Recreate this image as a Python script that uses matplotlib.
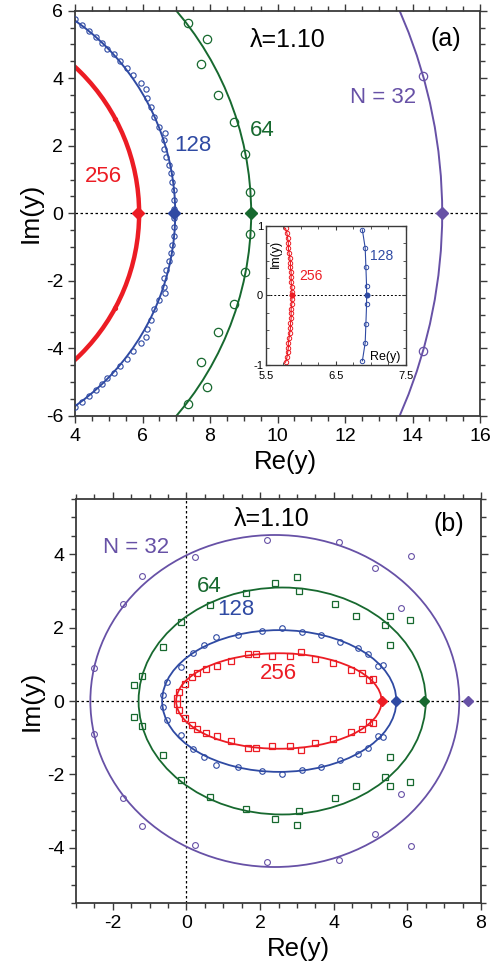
import matplotlib
matplotlib.use('Agg')
import matplotlib.pyplot as plt
from matplotlib.patches import Circle, Ellipse
from matplotlib.ticker import MultipleLocator

plt.rcParams['font.family'] = ['Liberation Sans', 'DejaVu Sans']
plt.rcParams['axes.unicode_minus'] = False

RED = '#ec1c24'
BLUE = '#2f4aa3'
GREEN = '#17692f'
PURPLE = '#6751a6'
FRAME = '#3a3a3a'

# ---- panel (a) : N = 32, 64, 128, 256 ----
a_radius = [14.88, 9.22, 6.97, 5.90]
a_edge_x = [14.88, 9.21, 6.93, 5.88]

# upper half of the points (lower half is the mirror image)
a32_x = [14.30]
a32_y = [4.07]
a64_x = [9.19, 9.04, 8.72, 8.23, 7.73, 7.90, 7.36]
a64_y = [0.62, 1.75, 2.69, 3.51, 4.41, 5.15, 5.64]
a128_x = [6.94, 6.93, 6.92, 6.88, 6.83, 6.79, 6.69, 6.65, 6.65, 6.68, 6.50, 6.35, 6.24,
          6.14, 6.09, 5.95, 5.73, 5.53, 5.33, 5.16, 4.96, 4.79, 4.62, 4.42, 4.22, 4.00]
a128_y = [0.13, 0.41, 0.68, 0.94, 1.18, 1.42, 1.67, 1.92, 2.17, 2.37, 2.56, 2.84, 3.16,
          3.43, 3.67, 3.85, 4.09, 4.31, 4.52, 4.72, 4.88, 5.05, 5.23, 5.40, 5.58, 5.74]
a256_x = [5.19]
a256_y = [2.80]

# inset points
in256_x = [5.87, 5.87, 5.86, 5.86, 5.86, 5.85, 5.85, 5.84, 5.83, 5.82, 5.82, 5.81, 5.80, 5.78]
in256_y = [0.05, 0.12, 0.19, 0.26, 0.33, 0.40, 0.47, 0.54, 0.61, 0.68, 0.75, 0.82, 0.89, 0.96]
in128_x = [6.94, 6.94, 6.93, 6.92, 6.88]
in128_y = [0.0, 0.13, 0.41, 0.68, 0.94]

# ---- panel (b) : ellipses ----
b_cx = [2.40, 2.60, 2.52, 2.51]
b_ax = [5.01, 3.90, 3.18, 2.79]
b_by = [4.52, 3.09, 1.93, 1.30]
b_edge_x = [7.66, 6.45, 5.69, 5.30]

b32_x = [-2.50, -1.71, -1.21, 0.22, 2.18, 4.13, 5.12, 6.10, 5.82]
b32_y = [0.91, 2.63, 3.41, 3.93, 4.38, 4.32, 3.61, 3.95, 2.54]
b64_x = [-1.43, -1.21, -0.63, -0.16, 0.63, 1.61, 2.40, 3.01, 3.07, 4.04, 4.61, 5.52, 5.39, 6.07, 5.52]
b64_y = [0.44, 0.67, 1.46, 2.16, 2.61, 2.93, 3.20, 3.37, 3.00, 2.65, 2.31, 2.32, 2.08, 2.20, 1.52]
b128_x = [-0.64, -0.53, -0.16, 0.18, 0.47, 0.81, 1.41, 2.06, 2.60, 3.13, 3.65, 4.16, 4.66, 4.92, 5.19, 5.35]
b128_y = [0.15, 0.51, 0.92, 1.32, 1.53, 1.75, 1.79, 1.90, 1.99, 1.87, 1.81, 1.60, 1.44, 1.28, 0.94, 0.99]
b256_x = [-0.25, -0.19, -0.05, 0.15, 0.29, 0.54, 0.82, 1.20, 1.68, 1.88, 2.31, 2.81, 3.10,
          3.49, 3.99, 4.46, 4.78, 4.96, 5.07]
b256_y = [0.07, 0.25, 0.45, 0.66, 0.77, 0.86, 0.96, 1.08, 1.28, 1.28, 1.23, 1.23, 1.34,
          1.14, 1.04, 0.84, 0.77, 0.57, 0.59]

colors = [PURPLE, GREEN, BLUE, RED]


def both(x, y):
    return list(x) + list(x), list(y) + [-v for v in y]


def style_axes(ax, xmaj, xmin, ymaj, ymin, size=14):
    for s in ax.spines.values():
        s.set_color(FRAME)
        s.set_linewidth(1.3)
    ax.xaxis.set_major_locator(MultipleLocator(xmaj))
    ax.xaxis.set_minor_locator(MultipleLocator(xmin))
    ax.yaxis.set_major_locator(MultipleLocator(ymaj))
    ax.yaxis.set_minor_locator(MultipleLocator(ymin))
    ax.tick_params(which='both', direction='out', top=True, right=True,
                   color=FRAME, labelsize=size, width=1.0)
    ax.tick_params(which='major', length=5)
    ax.tick_params(which='minor', length=3.5)


fig = plt.figure(figsize=(4.91, 9.68), dpi=100)

# ================= panel (a) =================
ax = fig.add_axes([75 / 491, 1 - 416 / 968, 405 / 491, 405.3 / 968])
ax.set_xlim(4, 16)
ax.set_ylim(-6, 6)
ax.axhline(0, color='black', lw=0.9, ls=(0, (2, 2)), zorder=1)
lws = [1.4, 1.4, 1.4, 3.2]
for r, c, lw in zip(a_radius, colors, lws):
    ax.add_patch(Circle((0, 0), r, fill=False, ec=c, lw=lw, zorder=2))

x, y = both(a32_x, a32_y)
ax.plot(x, y, 'o', ms=6, mfc='none', mec=PURPLE, mew=0.9, zorder=3)
x, y = both(a64_x, a64_y)
ax.plot(x, y, 'o', ms=6, mfc='none', mec=GREEN, mew=0.9, zorder=3)
x, y = both(a128_x, a128_y)
ax.plot(x, y, 'o', ms=3.8, mfc='none', mec=BLUE, mew=0.8, zorder=3)
x, y = both(a256_x, a256_y)
ax.plot(x, y, 'o', ms=3, mfc=RED, mec=RED, mew=0.8, zorder=3)
for ex, c in zip(a_edge_x, colors):
    ax.plot([ex], [0], 'D', ms=5.8, color=c, zorder=4)

ax.text(10.3, 5.12, 'λ=1.10', fontsize=18, ha='center', va='center')
ax.text(14.99, 5.16, '(a)', fontsize=18, ha='center', va='center')
ax.text(13.14, 3.43, 'N = 32', fontsize=16, color=PURPLE, ha='center', va='center')
ax.text(9.54, 2.46, '64', fontsize=16, color=GREEN, ha='center', va='center')
ax.text(7.48, 2.02, '128', fontsize=16, color=BLUE, ha='center', va='center')
ax.text(4.83, 1.10, '256', fontsize=16, color=RED, ha='center', va='center')
style_axes(ax, 2, 0.5, 2, 0.5)
ax.set_xlabel('Re(y)', fontsize=18.5, labelpad=0)
ax.set_ylabel('Im(y)', fontsize=19, labelpad=2)
ax.xaxis.set_label_coords(0.52, -0.085)

# inset
ins = fig.add_axes([266 / 491, 1 - 365 / 968, 139.7 / 491, 139.3 / 968])
ins.set_xlim(5.5, 7.5)
ins.set_ylim(-1, 1)
ins.axhline(0, color='black', lw=0.7, ls=(0, (2, 2)), zorder=1)
ins.plot(in256_x[::-1] + [5.87] + in256_x, [-v for v in in256_y[::-1]] + [0.0] + in256_y,
         '-o', color=RED, ms=3.2, mfc='none', mew=0.7, lw=0.8)
ins.plot(in128_x[:0:-1] + in128_x, [-v for v in in128_y[:0:-1]] + in128_y,
         '-o', color=BLUE, ms=3.2, mfc='none', mew=0.7, lw=0.8)
ins.plot([5.87], [0], 'o', ms=3.2, color=RED, zorder=4)
ins.plot([6.94], [0], 'o', ms=3.2, color=BLUE, zorder=4)
ins.text(7.16, 0.56, '128', fontsize=10, color=BLUE, ha='center', va='center')
ins.text(6.14, 0.28, '256', fontsize=10, color=RED, ha='center', va='center')
ins.text(5.64, 0.59, 'Im(y)', fontsize=9, rotation=90, ha='center', va='center')
ins.text(7.20, -0.88, 'Re(y)', fontsize=9, ha='center', va='center')
for s in ins.spines.values():
    s.set_color(FRAME)
    s.set_linewidth(1.0)
ins.set_xticks([5.5, 6.5, 7.5])
ins.set_yticks([-1, 0, 1])
ins.xaxis.set_minor_locator(MultipleLocator(0.25))
ins.yaxis.set_minor_locator(MultipleLocator(0.25))
ins.tick_params(which='both', direction='in', top=True, right=True, labelsize=8,
                color=FRAME)
ins.tick_params(axis='x', pad=4)
ins.tick_params(axis='y', pad=2)
ins.tick_params(which='major', length=3)
ins.tick_params(which='minor', length=2)

# ================= panel (b) =================
bx = fig.add_axes([76 / 491, 1 - 903 / 968, 405 / 491, 404 / 968])
bx.set_xlim(-3, 8)
bx.set_ylim(-5.5, 5.5)
bx.axhline(0, color='black', lw=0.9, ls=(0, (2, 2)), zorder=1)
bx.axvline(0, color='black', lw=0.9, ls=(0, (2, 2)), zorder=1)
for cx, a, b, c in zip(b_cx, b_ax, b_by, colors):
    bx.add_patch(Ellipse((cx, 0), 2 * a, 2 * b, fill=False, ec=c, lw=1.3, zorder=2))

x, y = both(b32_x, b32_y)
bx.plot(x, y, 'o', ms=4.2, mfc='none', mec=PURPLE, mew=0.8, zorder=3)
x, y = both(b64_x, b64_y)
bx.plot(x, y, 's', ms=4.8, mfc='none', mec=GREEN, mew=0.9, zorder=3)
x, y = both(b128_x, b128_y)
bx.plot(x, y, 'o', ms=4.0, mfc='none', mec=BLUE, mew=0.8, zorder=3)
x, y = both(b256_x, b256_y)
bx.plot(x, y, 's', ms=4.8, mfc='none', mec=RED, mew=0.9, zorder=3)
for ex, c in zip(b_edge_x, colors):
    bx.plot([ex], [0], 'D', ms=4.6, color=c, zorder=4)

bx.text(2.31, 4.96, 'λ=1.10', fontsize=18, ha='center', va='center')
bx.text(7.12, 4.82, '(b)', fontsize=18, ha='center', va='center')
bx.text(-1.36, 4.17, 'N = 32', fontsize=16, color=PURPLE, ha='center', va='center')
bx.text(0.63, 3.13, '64', fontsize=16, color=GREEN, ha='center', va='center')
bx.text(1.34, 2.48, '128', fontsize=16, color=BLUE, ha='center', va='center')
bx.text(2.50, 0.75, '256', fontsize=16, color=RED, ha='center', va='center')
style_axes(bx, 2, 0.5, 2, 0.5)
bx.set_xlabel('Re(y)', fontsize=18.5, labelpad=0)
bx.set_ylabel('Im(y)', fontsize=19, labelpad=2)
bx.xaxis.set_label_coords(0.55, -0.085)

fig.savefig('out.png', dpi=100)
